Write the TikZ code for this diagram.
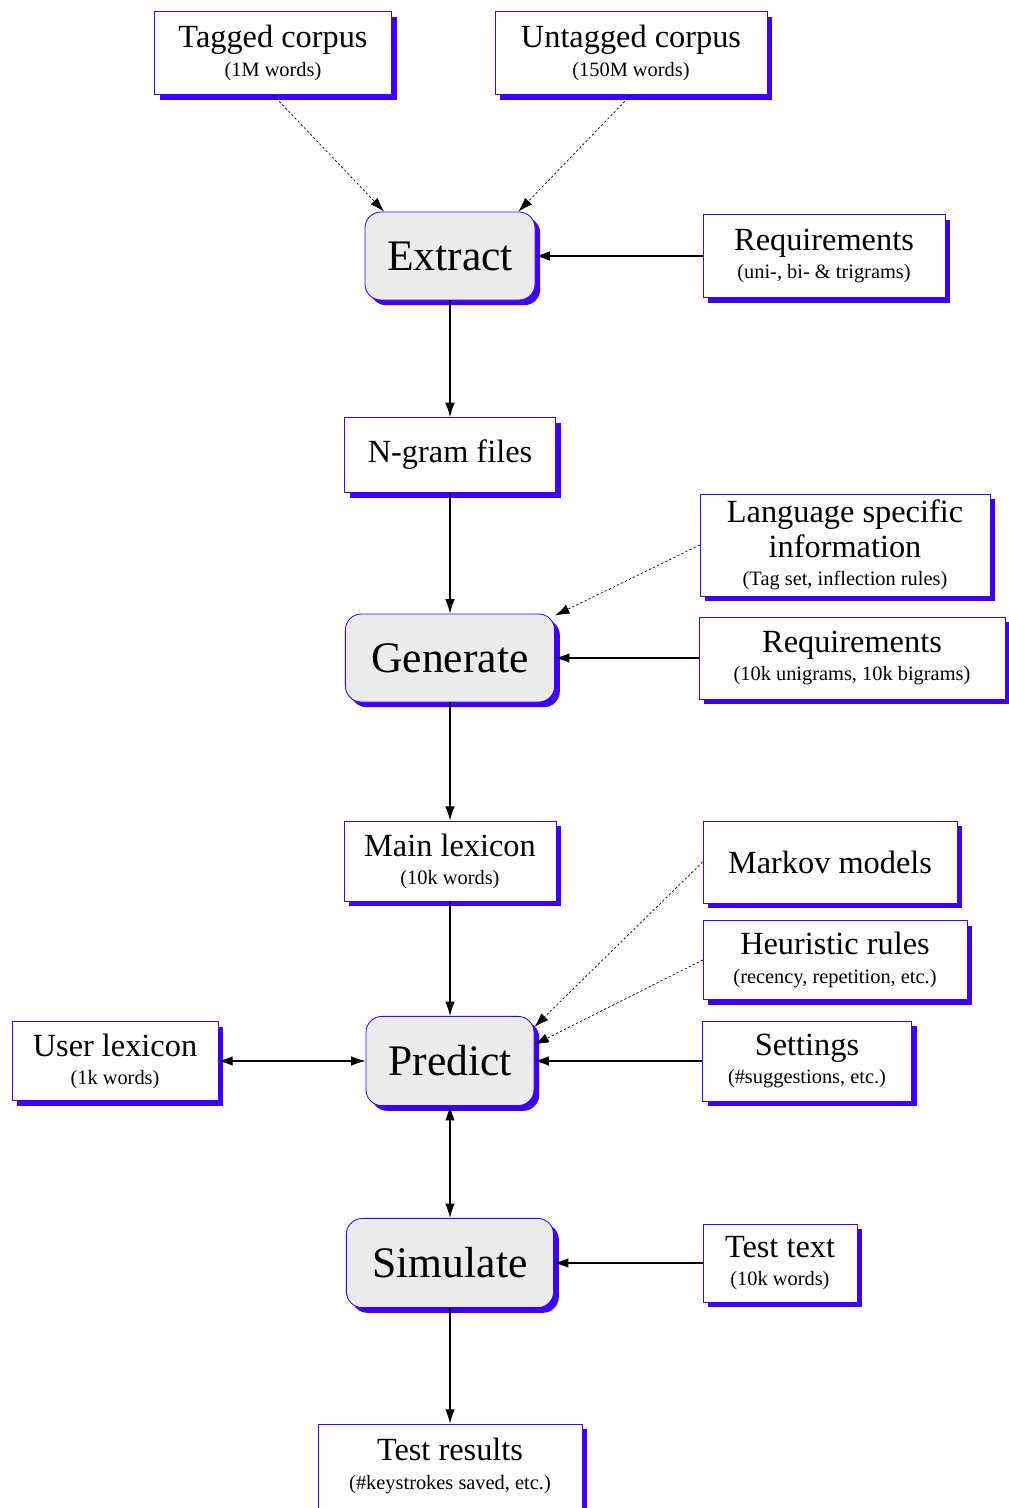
\documentclass[tikz,border=0pt]{standalone}
\usepackage{fontspec}
\setmainfont{Liberation Serif}
\usepackage{xcolor}
\usetikzlibrary{arrows.meta,shadows}

\definecolor{boxblue}{RGB}{60,0,255}
\newcommand{\subtxt}[1]{{\fontsize{14.5}{16}\selectfont #1}}

\begin{document}
\begin{tikzpicture}[x=0.025cm, y=-0.025cm,
    box/.style={draw=boxblue, fill=white, align=center, inner sep=1pt,
      drop shadow={shadow xshift=0.13cm, shadow yshift=-0.13cm, fill=boxblue, opacity=1},
      font=\fontsize{23}{25}\selectfont},
    stage/.style={box, rounded corners=0.4cm, fill=black!8, line width=0.6pt,
      font=\fontsize{31}{36}\selectfont},
    flow/.style={-{Latex[length=0.36cm,width=0.24cm]}, line width=0.8pt},
    feed/.style={flow, line width=0.5pt, dash pattern=on 1.6pt off 1.6pt},
    both/.style={flow, {Latex[length=0.36cm,width=0.24cm]}-{Latex[length=0.36cm,width=0.24cm]}}
    ]
    \useasboundingbox (0,0) rectangle (1008,1508);

    % sources
    \node[box, minimum width=5.93cm, minimum height=2.08cm] (tagged) at (273,53)
      {Tagged corpus\\[-5pt]\subtxt{(1M words)}};
    \node[box, minimum width=6.8cm, minimum height=2.08cm] (untagged) at (631,53)
      {Untagged corpus\\[-5pt]\subtxt{(150M words)}};
    \node[box, minimum width=6.05cm, minimum height=2.08cm] (reqext) at (824,256)
      {Requirements\\[-5pt]\subtxt{(uni-, bi- \& trigrams)}};
    \node[box, minimum width=7.25cm, minimum height=2.55cm] (langinfo) at (845,545)
      {Language specific\\information\\[-5pt]\subtxt{(Tag set, inflection rules)}};
    \node[box, minimum width=7.65cm, minimum height=2.05cm] (reqgen) at (852,658)
      {Requirements\\[-5pt]\subtxt{(10k unigrams, 10k bigrams)}};
    \node[box, minimum width=6.35cm, minimum height=2.05cm] (markov) at (830,862)
      {Markov models};
    \node[box, minimum width=6.6cm, minimum height=1.98cm] (heuristic) at (835,960)
      {Heuristic rules\\[-5pt]\subtxt{(recency, repetition, etc.)}};
    \node[box, minimum width=5.23cm, minimum height=2.0cm] (settings) at (807,1061)
      {Settings\\[-5pt]\subtxt{(\#suggestions, etc.)}};
    \node[box, minimum width=3.85cm, minimum height=1.95cm] (testtext) at (780,1263)
      {Test text\\[-5pt]\subtxt{(10k words)}};
    \node[box, minimum width=5.15cm, minimum height=1.98cm] (userlex) at (115,1061)
      {User lexicon\\[-5pt]\subtxt{(1k words)}};

    % main chain
    \node[stage, minimum width=4.25cm, minimum height=2.2cm] (extract) at (450,256) {Extract};
    \node[box, minimum width=5.28cm, minimum height=1.88cm] (ngram) at (450,455) {N-gram files};
    \node[stage, minimum width=5.23cm, minimum height=2.2cm] (generate) at (450,658) {Generate};
    \node[box, minimum width=5.3cm, minimum height=2.0cm] (mainlex) at (450,861)
      {Main lexicon\\[-5pt]\subtxt{(10k words)}};
    \node[stage, minimum width=4.2cm, minimum height=2.23cm] (predict) at (450,1061) {Predict};
    \node[stage, minimum width=5.18cm, minimum height=2.23cm] (simulate) at (450,1263) {Simulate};
    \node[box, minimum width=6.6cm, minimum height=2.1cm] (results) at (450,1466)
      {Test results\\[-5pt]\subtxt{(\#keystrokes saved, etc.)}};

    % connectors
    \draw[feed] (tagged.south) -- (extract.146);
    \draw[feed] (untagged.south) -- (extract.33);
    \draw[flow] (reqext.west) -- (extract.east);
    \draw[flow] (extract.south) -- (ngram.north);
    \draw[flow] (ngram.south) -- (generate.north);
    \draw[feed] (langinfo.west) -- (generate.22);
    \draw[flow] (reqgen.west) -- (generate.east);
    \draw[flow] (generate.south) -- (mainlex.north);
    \draw[flow] (mainlex.south) -- (predict.north);
    \draw[feed] (markov.west) -- (predict.22);
    \draw[feed] (heuristic.west) -- (predict.11);
    \draw[flow] (settings.west) -- (predict.east);
    \draw[both] (userlex.east) -- (predict.west);
    \draw[both] (predict.south) -- (simulate.north);
    \draw[flow] (testtext.west) -- (simulate.east);
    \draw[flow] (simulate.south) -- (results.north);
  \end{tikzpicture}
\end{document}
